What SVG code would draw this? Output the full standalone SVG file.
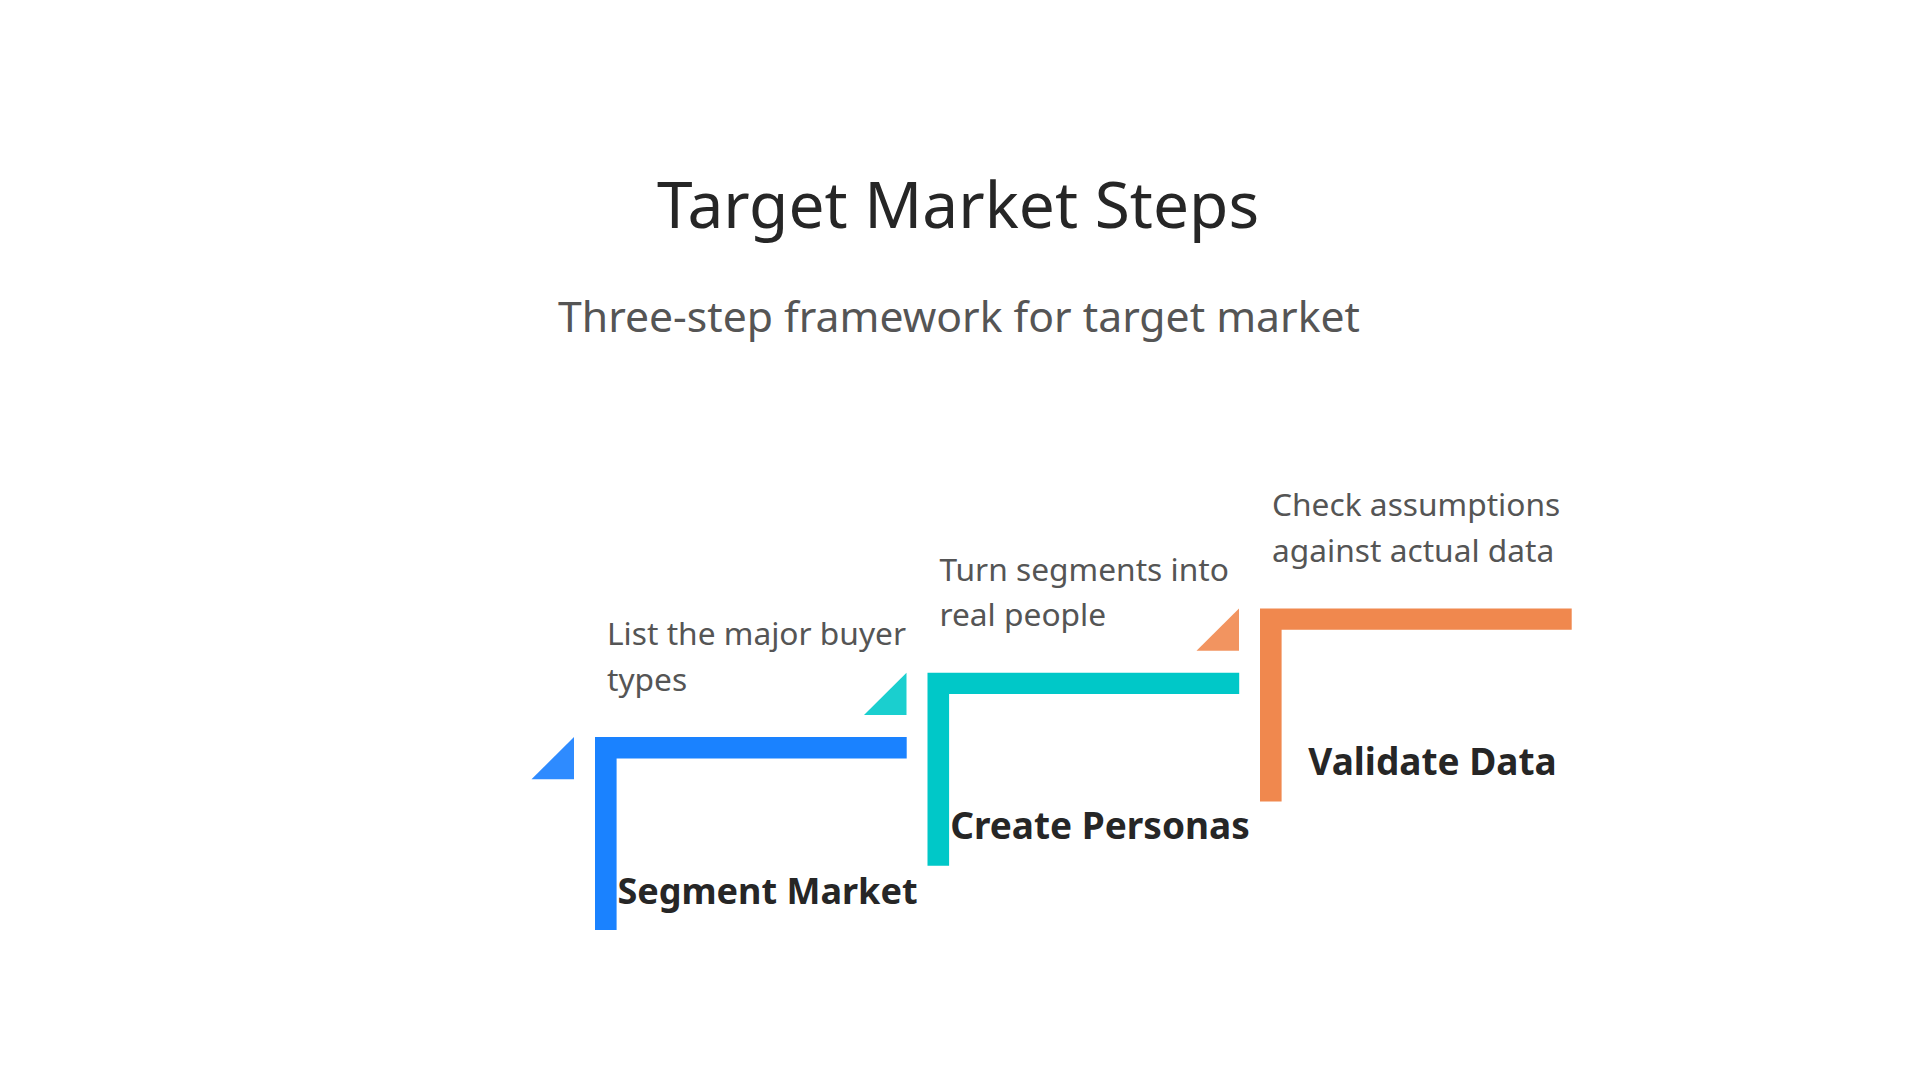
<svg xmlns="http://www.w3.org/2000/svg" width="1920" height="1080" viewBox="0 0 1920 1080">
  <style>
    .title { font-family: "Noto Sans", "Open Sans", sans-serif; font-size: 64px; fill: #262626; text-anchor: middle; }
    .subtitle { font-family: "Noto Sans", "Open Sans", sans-serif; font-size: 42.7px; fill: #555555; text-anchor: middle; }
    .desc { font-family: "Noto Sans", "Open Sans", sans-serif; font-size: 31.7px; fill: #555555; }
    .label { font-family: "Noto Sans", "Open Sans", sans-serif; font-size: 37px; font-weight: bold; fill: #262626; text-anchor: middle; }
  </style>
  <defs>
    <path id="ell" d="M0,0 H311.7 V21.4 H21.6 V193 H0 Z"/>
    <path id="tri" d="M-63.5,42.3 L-21,0 L-21,42.3 Z"/>
  </defs>
  <rect width="1920" height="1080" fill="#ffffff"/>
  <text class="title" x="958" y="228">Target Market Steps</text>
  <text class="subtitle" x="959" y="331.5">Three-step framework for target market</text>
  <g id="connectors"/>
  <g id="step1" transform="translate(595,737)">
    <use href="#tri" fill="#2E8BFF"/>
    <use href="#ell" fill="#1A82FF"/>
    <text class="desc" x="12" y="-92"><tspan x="12">List the major buyer</tspan><tspan x="12" dy="45.5">types</tspan></text>
    <text class="label" x="172.5" y="166.5" style="font-size:36px">Segment Market</text>
  </g>
  <g id="step2" transform="translate(927.5,672.7)">
    <use href="#tri" fill="#1ACFCF"/>
    <use href="#ell" fill="#00C8C8"/>
    <text class="desc" x="12" y="-92"><tspan x="12">Turn segments into</tspan><tspan x="12" dy="45.5">real people</tspan></text>
    <text class="label" x="172.5" y="166.5">Create Personas</text>
  </g>
  <g id="step3" transform="translate(1260,608.4)">
    <use href="#tri" fill="#F29460"/>
    <use href="#ell" fill="#F0884E"/>
    <text class="desc" x="12" y="-92"><tspan x="12">Check assumptions</tspan><tspan x="12" dy="45.5">against actual data</tspan></text>
    <text class="label" x="172.5" y="166.5">Validate Data</text>
  </g>
</svg>
